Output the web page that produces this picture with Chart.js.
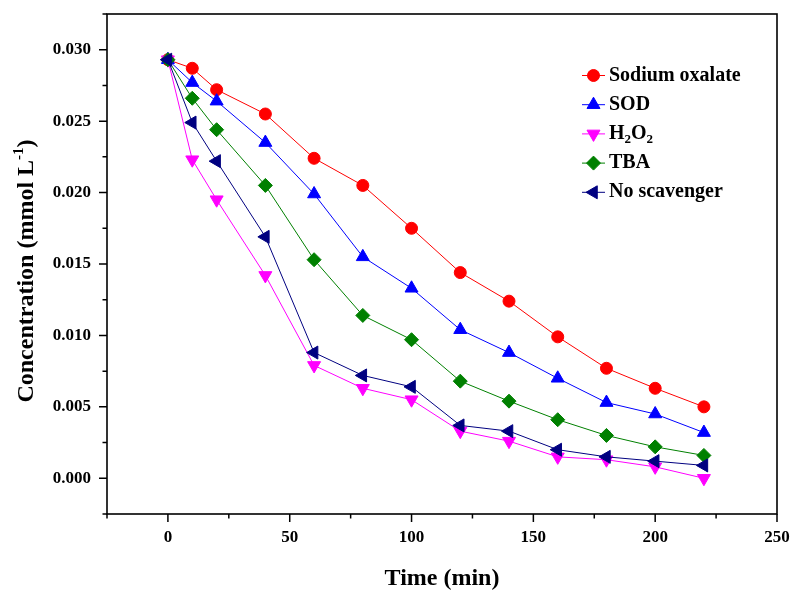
<!DOCTYPE html>
<html lang="en">

<head>
   <meta charset="UTF-8">
   <title>Concentration vs Time</title>
   <script src="https://cdn.jsdelivr.net/npm/chart.js@4.4.1/dist/chart.umd.min.js"></script>
   <style>
      html, body { margin: 0; padding: 0; background: #fff; }
      canvas { display: block; }
   </style>
</head>

<body>
   <canvas id="myChart" width="792" height="590"></canvas>

   <script>
      // time points (min)
      const times = [0, 10, 20, 40, 60, 80, 100, 120, 140, 160, 180, 200, 220];

      // concentration (mmol L-1)
      const sodiumOxalate = [0.0293, 0.0287, 0.0272, 0.0255, 0.0224, 0.0205, 0.0175, 0.0144, 0.0124, 0.0099, 0.0077, 0.0063, 0.0050];
      const sod = [0.0293, 0.0277, 0.0264, 0.0235, 0.0199, 0.0155, 0.0133, 0.0104, 0.0088, 0.0070, 0.0053, 0.0045, 0.0032];
      const h2o2 = [0.0293, 0.0223, 0.0195, 0.0142, 0.0079, 0.0063, 0.0055, 0.0033, 0.0026, 0.0015, 0.0013, 0.0008, 0.0000];
      const tba = [0.0293, 0.0266, 0.0244, 0.0205, 0.0153, 0.0114, 0.0097, 0.0068, 0.0054, 0.0041, 0.0030, 0.0022, 0.0016];
      const noScavenger = [0.0293, 0.0249, 0.0222, 0.0169, 0.0088, 0.0072, 0.0064, 0.0037, 0.0033, 0.0020, 0.0015, 0.0012, 0.0009];

      // axis ticks
      const xMajorTicks = [0, 50, 100, 150, 200, 250];
      const xMinorTicks = [-25, 25, 75, 125, 175, 225];
      const yMajorTicks = [0, 0.005, 0.010, 0.015, 0.020, 0.025, 0.030];
      const yMinorTicks = [-0.0025, 0.0025, 0.0075, 0.0125, 0.0175, 0.0225, 0.0275, 0.0325];

      const FONT = "'Liberation Serif', 'Times New Roman', serif";
      Chart.defaults.font.family = FONT;
      Chart.defaults.font.weight = 'bold';
      Chart.defaults.color = '#000';

      const series = [
         { label: [['Sodium oxalate', 0]], data: sodiumOxalate, color: '#ff0000', style: 'circle', radius: 6, rotation: 0 },
         { label: [['SOD', 0]], data: sod, color: '#0000ff', style: 'triangle', radius: 7.5, rotation: 0 },
         { label: [['H', 0], ['2', 1], ['O', 0], ['2', 1]], data: h2o2, color: '#ff00ff', style: 'triangle', radius: 7.5, rotation: 180 },
         { label: [['TBA', 0]], data: tba, color: '#008000', style: 'rectRot', radius: 7, rotation: 0 },
         { label: [['No scavenger', 0]], data: noScavenger, color: '#000080', style: 'triangle', radius: 7.5, rotation: -90 }
      ];

      const datasets = series.map((s, i) => ({
         label: s.label.map(p => p[0]).join(''),
         data: s.data.map((y, k) => ({ x: times[k], y: y })),
         borderColor: s.color,
         backgroundColor: s.color,
         borderWidth: 1,
         pointStyle: s.style,
         pointRadius: s.radius,
         pointRotation: s.rotation,
         pointBorderWidth: 1,
         pointBorderColor: s.color,
         pointBackgroundColor: s.color,
         tension: 0,
         order: series.length - i
      }));

      function drawMarker(ctx, s, x, y) {
         ctx.save();
         ctx.fillStyle = s.color;
         ctx.strokeStyle = s.color;
         ctx.lineWidth = 1;
         Chart.helpers.drawPoint(ctx, { pointStyle: s.style, radius: s.radius, rotation: s.rotation, borderWidth: 1 }, x, y);
         ctx.restore();
      }

      // no extra room for overhanging tick labels, the box is fixed
      function noPadding(s) {
         s.paddingLeft = 0;
         s.paddingRight = 0;
         s.paddingTop = 0;
         s.paddingBottom = 0;
      }

      // frame, minor/major ticks, axis titles and legend
      const framePlugin = {
         id: 'frame',
         beforeDatasetsDraw(chart) {
            const ctx = chart.ctx;
            const a = chart.chartArea;
            const xs = chart.scales.x, ys = chart.scales.y;
            ctx.save();
            ctx.strokeStyle = '#000';
            ctx.lineWidth = 1.6;
            ctx.strokeRect(a.left, a.top, a.right - a.left, a.bottom - a.top);
            ctx.lineWidth = 1.5;
            ctx.beginPath();
            xMajorTicks.forEach(v => { const p = xs.getPixelForValue(v); ctx.moveTo(p, a.bottom); ctx.lineTo(p, a.bottom + 8); });
            xMinorTicks.forEach(v => { const p = xs.getPixelForValue(v); ctx.moveTo(p, a.bottom); ctx.lineTo(p, a.bottom + 4.5); });
            yMajorTicks.forEach(v => { const p = ys.getPixelForValue(v); ctx.moveTo(a.left, p); ctx.lineTo(a.left - 8, p); });
            yMinorTicks.forEach(v => { const p = ys.getPixelForValue(v); ctx.moveTo(a.left, p); ctx.lineTo(a.left - 4.5, p); });
            ctx.stroke();
            ctx.restore();
         },
         afterDraw(chart) {
            const ctx = chart.ctx;
            const a = chart.chartArea;
            ctx.save();
            ctx.fillStyle = '#000';

            // x title
            ctx.font = 'bold 24px ' + FONT;
            ctx.textAlign = 'center';
            ctx.textBaseline = 'alphabetic';
            ctx.fillText('Time (min)', (a.left + a.right) / 2, 585);

            // y title with superscript
            ctx.save();
            ctx.translate(33, 271);
            ctx.rotate(-Math.PI / 2);
            const main = 'Concentration (mmol L';
            const sup = '-1';
            const tail = ')';
            ctx.font = 'bold 24px ' + FONT;
            const wMain = ctx.measureText(main).width;
            const wTail = ctx.measureText(tail).width;
            ctx.font = 'bold 15px ' + FONT;
            const wSup = ctx.measureText(sup).width;
            let x0 = -(wMain + wSup + wTail) / 2;
            ctx.textAlign = 'left';
            ctx.font = 'bold 24px ' + FONT;
            ctx.fillText(main, x0, 0);
            ctx.font = 'bold 15px ' + FONT;
            ctx.fillText(sup, x0 + wMain, -10);
            ctx.font = 'bold 24px ' + FONT;
            ctx.fillText(tail, x0 + wMain + wSup, 0);
            ctx.restore();

            // legend
            const lx0 = 582, lx1 = 605, ly0 = 75.5, step = 29.2;
            series.forEach((s, i) => {
               const y = ly0 + i * step;
               ctx.strokeStyle = s.color;
               ctx.lineWidth = 1;
               ctx.beginPath();
               ctx.moveTo(lx0, y);
               ctx.lineTo(lx1, y);
               ctx.stroke();
               drawMarker(ctx, s, (lx0 + lx1) / 2, y);
               let tx = lx1 + 4;
               ctx.fillStyle = '#000';
               ctx.textAlign = 'left';
               ctx.textBaseline = 'middle';
               s.label.forEach(([txt, sub]) => {
                  ctx.font = sub ? 'bold 13px ' + FONT : 'bold 20px ' + FONT;
                  ctx.fillText(txt, tx, sub ? y + 6 : y);
                  tx += ctx.measureText(txt).width;
               });
            });
            ctx.restore();
         }
      };

      const config = {
         type: 'line',
         data: { datasets: datasets },
         options: {
            responsive: false,
            animation: false,
            devicePixelRatio: 1,
            layout: { padding: { left: 0, top: 14, right: 15, bottom: 0 } },
            plugins: { legend: { display: false }, tooltip: { enabled: false } },
            scales: {
               x: {
                  type: 'linear',
                  min: -25,
                  max: 250,
                  grid: { display: false, drawTicks: false },
                  border: { display: false },
                  afterBuildTicks: s => { s.ticks = xMajorTicks.map(v => ({ value: v })); },
                  afterFit: s => { s.height = 76; noPadding(s); },
                  ticks: { font: { size: 17, weight: 'bold' }, padding: 13, maxRotation: 0, autoSkip: false }
               },
               y: {
                  type: 'linear',
                  min: -0.0025,
                  max: 0.0325,
                  grid: { display: false, drawTicks: false },
                  border: { display: false },
                  afterBuildTicks: s => { s.ticks = yMajorTicks.map(v => ({ value: v })); },
                  afterFit: s => { s.width = 107; noPadding(s); },
                  ticks: { font: { size: 17, weight: 'bold' }, padding: 16, autoSkip: false, callback: v => v.toFixed(3) }
               }
            }
         },
         plugins: [framePlugin]
      };

      const chart = new Chart(document.getElementById('myChart').getContext('2d'), config);
   </script>
</body>

</html>
